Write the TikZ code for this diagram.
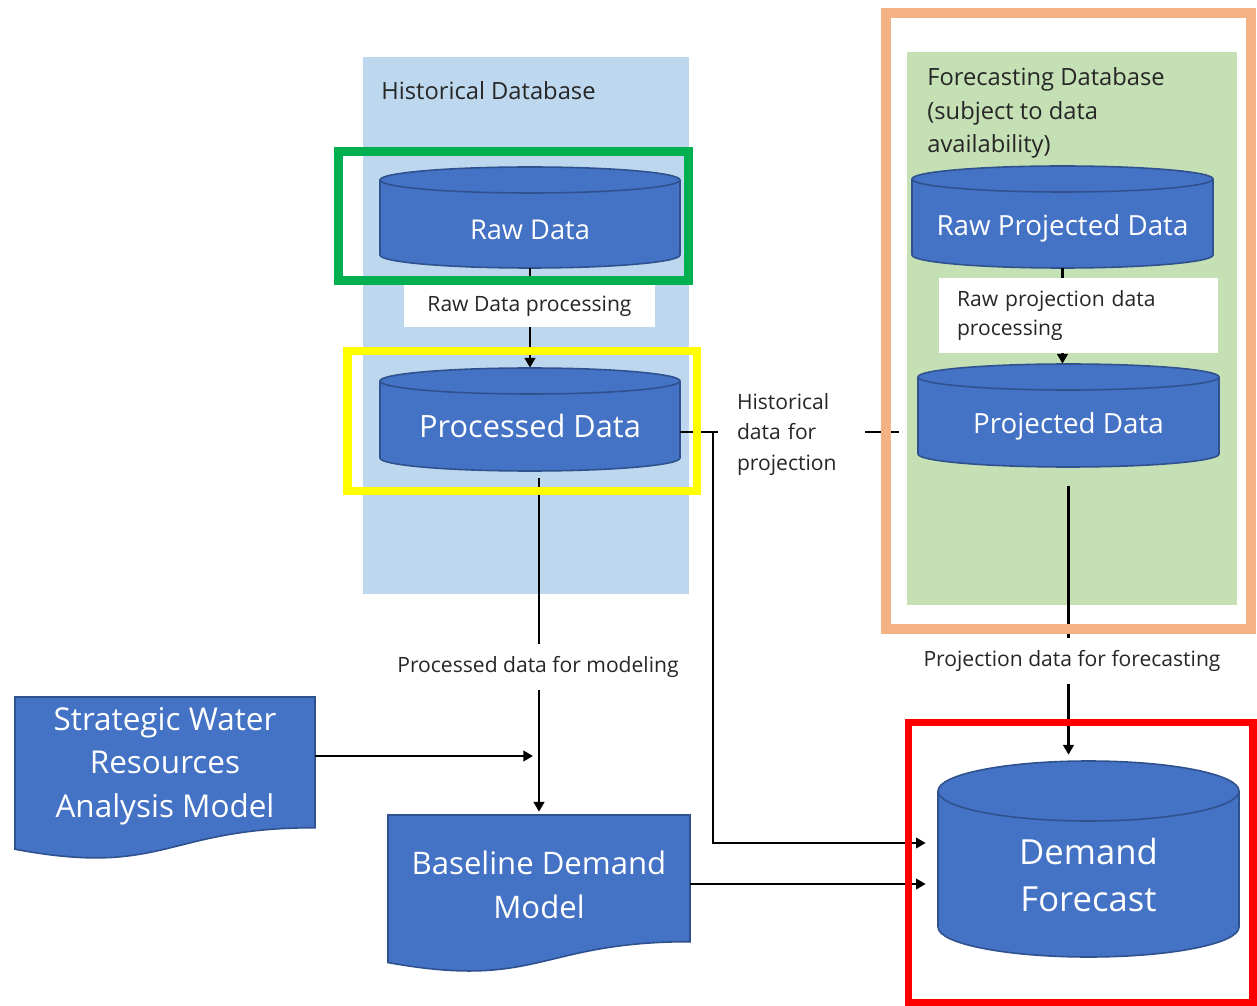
\documentclass[tikz,border=0pt]{standalone}
\usepackage{fontspec}
\setmainfont{Open Sans}
\usetikzlibrary{arrows.meta,fit}
\definecolor{cylfill}{HTML}{4472C4}
\definecolor{cylline}{HTML}{2F528F}
\definecolor{histbg}{HTML}{BDD7EE}
\definecolor{forebg}{HTML}{C5E0B4}
\definecolor{frgreen}{HTML}{00B050}
\definecolor{fryellow}{HTML}{FFFF00}
\definecolor{frred}{HTML}{FF0000}
\definecolor{frorange}{HTML}{F4B183}
\definecolor{txt}{HTML}{262626}

% cylinder: name, L, T, R, B, ry, text y, font, text
\newcommand{\mycyl}[9]{%
  \pgfmathsetmacro\myCx{(#2+#4)/2}%
  \pgfmathsetmacro\myRx{(#4-#2)/2}%
  \pgfmathsetmacro\myTa{#3+#6}%
  \pgfmathsetmacro\myBa{#5-#6}%
  \filldraw[shapeline] (\myCx,\myBa) ellipse [x radius=\myRx, y radius=#6];
  \fill[cylfill] (#2,\myTa) rectangle (#4,\myBa);
  \draw[cylline,line width=0.9pt] (#2,\myTa) -- (#2,\myBa) (#4,\myTa) -- (#4,\myBa);
  \filldraw[shapeline] (\myCx,\myTa) ellipse [x radius=\myRx, y radius=#6];
  \coordinate (#1-nw) at (#2,#3);
  \coordinate (#1-se) at (#4,#5);
  \node[fit=(#1-nw)(#1-se), inner sep=0pt] (#1) {};
  \node[shapetext, font=#8] (#1-txt) at (\myCx,#7) {#9};
}
% document shape: name, L, T, R, h, text y, font, text
\newcommand{\mydoc}[8]{%
  \pgfmathsetmacro\myCx{(#2+#4)/2}%
  \pgfmathsetmacro\myYr{#3+0.802*#5}%
  \pgfmathsetmacro\myYl{#3+0.934*#5}%
  \pgfmathsetmacro\myYc{#3+1.107*#5}%
  \pgfmathsetmacro\myYb{#3+#5}%
  \filldraw[shapeline] (#2,#3) -- (#4,#3) -- (#4,\myYr)
     .. controls (\myCx,\myYr) and (\myCx,\myYc) .. (#2,\myYl) -- cycle;
  \coordinate (#1-nw) at (#2,#3);
  \coordinate (#1-se) at (#4,\myYb);
  \node[fit=(#1-nw)(#1-se), inner sep=0pt] (#1) {};
  \node[shapetext, font=#7] (#1-txt) at (\myCx,#6) {#8};
}

\begin{document}
\begin{tikzpicture}[x=0.02cm,y=-0.02cm,
  shapeline/.style={fill=cylfill,draw=cylline,line width=0.9pt},
  shapetext/.style={text=white, align=center, inner sep=0pt},
  ln/.style={line width=1.3pt, draw=black},
  arr/.style={ln, -{Triangle[length=5.5pt,width=6pt]}},
  lbl/.style={fill=white, text=txt, font=\fontsize{12}{16.5}\selectfont, inner sep=0pt},
  ttl/.style={text=txt, font=\fontsize{13.5}{19}\selectfont, inner sep=0pt, anchor=west, align=left}]

\fill[white] (0,0) rectangle (1257,1006);
\useasboundingbox (0,0) rectangle (1257,1006);

% containers
\fill[histbg] (363,57) rectangle (689,594);
\fill[forebg] (907,52) rectangle (1237,605);

% cylinders
\mycyl{raw}{380}{167}{680}{268}{13}{230}{\fontsize{15.5}{18}\selectfont}{Raw Data}
\mycyl{proc}{380}{368}{680}{471}{13}{426}{\fontsize{17.5}{20}\selectfont}{Processed Data}
\mycyl{rpj}{912}{166}{1213}{268}{13}{228}{\fontsize{15.8}{19}\selectfont}{Raw Projected Data}
\mycyl{proj}{918}{364}{1219}{467}{13}{426}{\fontsize{15.8}{19}\selectfont}{Projected Data}
\mycyl{df}{938}{761}{1239}{957}{30}{875}{\fontsize{19.7}{27.2}\selectfont}{Demand\\Forecast}

% documents
\mydoc{swr}{15}{697}{315}{163}{766}{\fontsize{17.9}{24.8}\selectfont}{Strategic Water\\Resources\\Analysis Model}
\mydoc{base}{388}{815}{690}{158}{885}{\fontsize{17.7}{24.8}\selectfont}{Baseline Demand\\Model}

% connectors
\coordinate (hp) at (899,432);
\coordinate (br) at (713,432);
\draw[arr] (raw.south) -- (proc.north);
\draw[ln] (proc.east |- 0,432) -- (hp);
\draw[arr, shorten >=0.24cm] (br) |- (df.west |- 0,843);
\draw[arr, shorten <=0.14cm, shorten >=0.06cm] (base.north |- proc.south) -- (base.north);
\draw[arr, shorten >=0.12cm] (swr.east |- 0,756) -- (base.north |- 0,756);
\draw[arr, shorten >=0.24cm] (base.east |- 0,884) -- (df.west |- 0,884);
\draw[arr] (rpj.south) -- (rpj.south |- proj.north);
\draw[arr, shorten <=0.38cm, shorten >=0.12cm] (proj.south) -- (proj.south |- df.north);

% connector labels
\node[lbl, minimum width=5.02cm, minimum height=0.84cm] (l1) at (529.5,306) {Raw Data processing};
\node[lbl, text width=4.86cm, align=left, minimum height=1.5cm, inner xsep=0.36cm] (l2) at (1078.5,315.5) {Raw projection data\\processing};
\node[lbl, text width=2.18cm, align=left, inner xsep=0.38cm, inner ysep=2pt, font=\fontsize{12}{17.3}\selectfont] (l3) at (791.5,434.5) {Historical\\data for\\projection};
\node[lbl, inner xsep=4pt, inner ysep=7pt] (l4) at (538,667) {Processed data for modeling};
\node[lbl, inner xsep=4pt, inner ysep=7pt] (l5) at (1072,661) {Projection data for forecasting};

% highlight frames
\draw[frgreen, line width=5.1pt] (338.5,151.5) rectangle (688.5,280.5);
\draw[fryellow, line width=4.8pt] (347.5,351) rectangle (697,491);
\draw[frred, line width=4.3pt] (908.5,722.5) rectangle (1253,1002.5);
\draw[frorange, line width=5.7pt] (886,13) rectangle (1251,629);

% container titles
\node[ttl] (t1) at (381,91) {Historical Database};
\node[ttl] (t2) at (927,113) {Forecasting Database\\(subject to data\\availability)};
\end{tikzpicture}
\end{document}
